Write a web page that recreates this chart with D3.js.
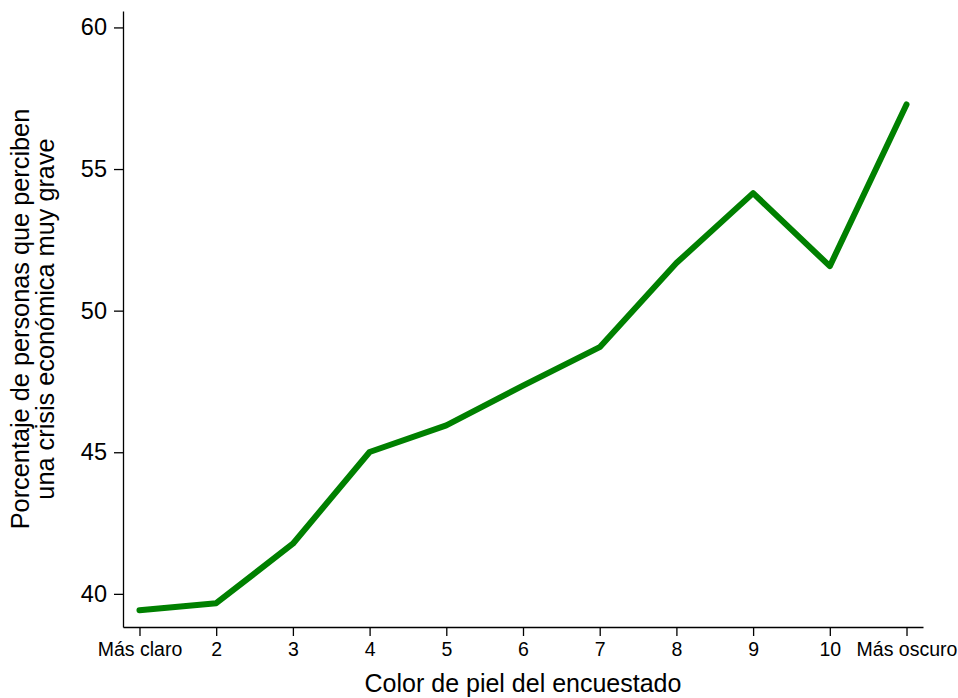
<!DOCTYPE html>
<html>
<head>
<meta charset="utf-8">
<script src="https://cdn.jsdelivr.net/npm/d3@7"></script>
<style>
  html, body { margin: 0; padding: 0; background: #fff; }
  svg { display: block; font-family: "Liberation Sans", Arial, sans-serif; }
</style>
</head>
<body>
<svg id="chart" width="958" height="698"></svg>
<script>
// Skin-colour scale categories (x axis)
const categories = ["Más claro", "2", "3", "4", "5", "6", "7", "8", "9", "10", "Más oscuro"];
// Percentage perceiving a very serious economic crisis
const values = [39.42, 39.67, 41.77, 45.01, 45.95, 47.35, 48.71, 51.68, 54.15, 51.57, 57.28];
// Y axis tick values
const yTicks = [40, 45, 50, 55, 60];

const xTitle = "Color de piel del encuestado";
const yTitleLines = ["Porcentaje de personas que perciben", "una crisis económica muy grave"];

const svg = d3.select("#chart");

const plot = { left: 123, right: 923, top: 11, bottom: 627 };

const x = d3.scalePoint()
  .domain(categories)
  .range([plot.left, plot.right])
  .padding(0.215);

const y = d3.scaleLinear()
  .domain([38.83, 60.58])
  .range([plot.bottom, plot.top]);

// Y axis
const yAxis = svg.append("g")
  .attr("transform", `translate(${plot.left},0)`)
  .call(d3.axisLeft(y).tickValues(yTicks).tickSize(9).tickSizeOuter(0).tickPadding(7));
yAxis.selectAll("text").attr("font-size", 23.5).attr("fill", "#000");
yAxis.selectAll("line, path").attr("stroke", "#000").attr("stroke-width", 1.3);

// X axis
const xAxis = svg.append("g")
  .attr("transform", `translate(0,${plot.bottom})`)
  .call(d3.axisBottom(x).tickSize(9).tickSizeOuter(0).tickPadding(6));
xAxis.selectAll("text").attr("font-size", 19.5).attr("fill", "#000");
xAxis.selectAll("line, path").attr("stroke", "#000").attr("stroke-width", 1.3);

// Data line
const line = d3.line()
  .x((d, i) => x(categories[i]))
  .y(d => y(d));

svg.append("path")
  .datum(values)
  .attr("d", line)
  .attr("fill", "none")
  .attr("stroke", "#008000")
  .attr("stroke-width", 6)
  .attr("stroke-linejoin", "round")
  .attr("stroke-linecap", "round");

// X axis title
svg.append("text")
  .attr("x", (plot.left + plot.right) / 2)
  .attr("y", 692)
  .attr("text-anchor", "middle")
  .attr("font-size", 25)
  .attr("fill", "#000")
  .text(xTitle);

// Y axis title (two lines, rotated)
const yMid = (plot.top + plot.bottom) / 2;
const yTitle = svg.append("text")
  .attr("transform", `translate(0,${yMid}) rotate(-90)`)
  .attr("text-anchor", "middle")
  .attr("font-size", 25.3)
  .attr("fill", "#000");
yTitle.selectAll("tspan")
  .data(yTitleLines)
  .join("tspan")
  .attr("x", 0)
  .attr("y", (d, i) => 29 + i * 25)
  .text(d => d);
</script>
</body>
</html>
